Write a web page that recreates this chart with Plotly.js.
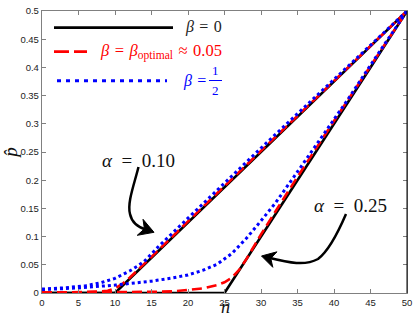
<!DOCTYPE html>
<html>
<head>
<meta charset="utf-8">
<script src="https://cdn.plot.ly/plotly-3.0.1.min.js"></script>
<style>html,body{margin:0;padding:0;background:#fff;}#chart{width:415px;height:318px;}</style>
</head>
<body>
<div id="chart"></div>
<script>
// ---- data ----
// alpha = 0.10
const n_a10_b0 = [0, 10, 50];
const p_a10_b0 = [0, 0, 0.5];
const n_a10_bopt = [0, 4, 8, 9, 10, 11, 12, 13, 15, 20, 25, 30, 40, 50];
const p_a10_bopt = [0.001, 0.001, 0.003, 0.004, 0.008, 0.016, 0.027, 0.039, 0.064, 0.127, 0.19, 0.252, 0.376, 0.5];
const n_a10_bhalf = [0, 3, 6, 8, 10, 11, 12, 13, 14, 16, 18, 20, 22, 25, 30, 35, 40, 45, 50];
const p_a10_bhalf = [0.007, 0.009, 0.013, 0.018, 0.026, 0.032, 0.039, 0.047, 0.056, 0.083, 0.108, 0.133, 0.158, 0.195, 0.257, 0.318, 0.379, 0.44, 0.5];
// alpha = 0.25
const n_a25_b0 = [0, 25, 50];
const p_a25_b0 = [0, 0, 0.5];
const n_a25_bopt = [0, 10, 15, 18, 20, 22, 24, 25, 26, 27, 28, 30, 32, 35, 40, 45, 50];
const p_a25_bopt = [0.001, 0.001, 0.002, 0.003, 0.005, 0.008, 0.014, 0.019, 0.027, 0.041, 0.06, 0.104, 0.145, 0.206, 0.305, 0.403, 0.5];
const n_a25_bhalf = [0, 5, 10, 15, 18, 20, 22, 24, 26, 28, 30, 32, 35, 38, 40, 42, 45, 48, 50];
const p_a25_bhalf = [0.006, 0.009, 0.014, 0.021, 0.027, 0.032, 0.04, 0.051, 0.07, 0.097, 0.128, 0.16, 0.215, 0.27, 0.308, 0.345, 0.404, 0.461, 0.5];

const xTicks = [0, 5, 10, 15, 20, 25, 30, 35, 40, 45, 50];
const yTicks = [0, 0.05, 0.1, 0.15, 0.2, 0.25, 0.3, 0.35, 0.4, 0.45, 0.5];
const yTickText = ['0', '0.05', '0.1', '0.15', '0.2', '0.25', '0.3', '0.35', '0.4', '0.45', '0.5'];

// ---- styles ----
const BLACK = '#000000', RED = '#ff0000', BLUE = '#0000ff';
const sBlack = {color: BLACK, width: 2.6, dash: 'solid'};
const sRed = {color: RED, width: 2.6, dash: '10px,5px'};
const sBlue = {color: BLUE, width: 3, dash: '3px,3px'};

function tr(x, y, line) { return {x: x, y: y, mode: 'lines', line: line, hoverinfo: 'skip', type: 'scatter'}; }
const traces = [
  tr(n_a10_b0, p_a10_b0, sBlack), tr(n_a25_b0, p_a25_b0, sBlack),
  tr(n_a10_bopt, p_a10_bopt, sRed), tr(n_a25_bopt, p_a25_bopt, sRed),
  tr(n_a10_bhalf, p_a10_bhalf, sBlue), tr(n_a25_bhalf, p_a25_bhalf, sBlue)
];

// ---- layout geometry (pixel -> paper helpers for decorations) ----
const W = 415, H = 318, ML = 42, MR = 8, MT = 11, MB = 25;
const PW = W - ML - MR, PH = H - MT - MB;
function px(x) { return (x - ML) / PW; }
function py(y) { return (H - MB - y) / PH; }
function pt(x, y) { return px(x).toFixed(5) + ',' + py(y).toFixed(5); }

function arrowHead(tx, ty, dx, dy, len, ang) {
  const l = Math.hypot(dx, dy); const ux = -dx / l, uy = -dy / l;
  const a = ang * Math.PI / 180;
  const r1 = [ux * Math.cos(a) - uy * Math.sin(a), ux * Math.sin(a) + uy * Math.cos(a)];
  const r2 = [ux * Math.cos(-a) - uy * Math.sin(-a), ux * Math.sin(-a) + uy * Math.cos(-a)];
  const b1 = [tx + len * r1[0], ty + len * r1[1]];
  const b2 = [tx + len * r2[0], ty + len * r2[1]];
  const inn = [tx + len * 0.6 * ux, ty + len * 0.6 * uy];
  return 'M' + pt(tx, ty) + 'L' + pt(b1[0], b1[1]) + 'L' + pt(inn[0], inn[1]) + 'L' + pt(b2[0], b2[1]) + 'Z';
}

const shapes = [
  // right axis in black
  {type: 'line', xref: 'paper', yref: 'paper', x0: 1, x1: 1, y0: 0, y1: 1, line: {color: '#000', width: 1}},
  // legend samples
  {type: 'line', xref: 'paper', yref: 'paper', x0: px(54), x1: px(173), y0: py(27.7), y1: py(27.7), line: {color: BLACK, width: 2.8}},
  {type: 'line', xref: 'paper', yref: 'paper', x0: px(54), x1: px(87), y0: py(51.7), y1: py(51.7), line: {color: RED, width: 2.8, dash: '15px,5px'}},
  {type: 'line', xref: 'paper', yref: 'paper', x0: px(57), x1: px(167), y0: py(80.7), y1: py(80.7), line: {color: BLUE, width: 3, dash: '4px,5px'}},
  // fraction bar
  {type: 'line', xref: 'paper', yref: 'paper', x0: px(209), x1: px(222), y0: py(80.5), y1: py(80.5), line: {color: BLUE, width: 1}},
  // curved arrow alpha=0.10
  {type: 'path', xref: 'paper', yref: 'paper', line: {color: BLACK, width: 2.5},
   path: 'M' + pt(138.5, 167) + 'C' + pt(134, 185) + ' ' + pt(127, 203) + ' ' + pt(130, 214) + 'C' + pt(132, 224) + ' ' + pt(140, 228) + ' ' + pt(147, 230)},
  {type: 'path', xref: 'paper', yref: 'paper', line: {color: BLACK, width: 1}, fillcolor: BLACK,
   path: arrowHead(154, 232.3, 10, 3.6, 17, 30)},
  // curved arrow alpha=0.25
  {type: 'path', xref: 'paper', yref: 'paper', line: {color: BLACK, width: 2.5},
   path: 'M' + pt(346, 214) + 'C' + pt(340, 228) + ' ' + pt(330, 250) + ' ' + pt(318, 259) + 'C' + pt(305, 266) + ' ' + pt(290, 263) + ' ' + pt(268, 257.5)},
  {type: 'path', xref: 'paper', yref: 'paper', line: {color: BLACK, width: 1}, fillcolor: BLACK,
   path: arrowHead(261.5, 256, -15, -4, 16, 30)}
];

const SERIF = 'Liberation Serif, Times New Roman, serif';
const E = '\u2002', T = '\u2004';
function ann(x, y, text, color, size, xa, ya) {
  return {xref: 'paper', yref: 'paper', x: px(x), y: py(y), text: text, showarrow: false,
    xanchor: xa || 'center', yanchor: ya || 'middle', borderpad: 0, font: {family: SERIF, size: size, color: color}};
}
const annotations = [
  ann(223, 27.5, '<i>β</i>' + T + '=' + T + '0', '#222', 16, 'right'),
  ann(223, 51.5, '<i>β</i>' + T + '=' + T + '<i>β</i><sub>optimal</sub>' + T + '≈' + T + '0.05', RED, 16.5, 'right'),
  ann(207, 80.5, '<i>β</i>' + T + '=', BLUE, 16, 'right'),
  ann(215.5, 70.5, '1', BLUE, 13),
  ann(215.5, 90.5, '2', BLUE, 13),
  ann(138, 160, '<i>α</i>' + E + '=' + E + '0.10', '#111', 19),
  ann(350, 206, '<i>α</i>' + E + '=' + E + '0.25', '#111', 19),
  // x axis title (placed as text below the tick labels)
  ann(225, 318, '<i>n</i>', '#111', 18, 'center', 'bottom')
];

const axisCommon = {
  showgrid: false, zeroline: false, ticks: 'inside', ticklen: 4, tickwidth: 1,
  tickcolor: '#808080', linecolor: '#808080', linewidth: 1.2, mirror: 'ticks',
  tickfont: {family: 'Liberation Sans, Arial, sans-serif', size: 9.5, color: '#222'}
};
const layout = {
  width: W, height: H, margin: {l: ML, r: MR, t: MT, b: MB, pad: 0},
  paper_bgcolor: '#fff', plot_bgcolor: '#fff', showlegend: false,
  xaxis: Object.assign({}, axisCommon, {range: [0, 50], tickvals: xTicks, ticktext: xTicks.map(String)}),
  yaxis: Object.assign({}, axisCommon, {range: [0, 0.5], tickvals: yTicks, ticktext: yTickText,
    title: {text: '<i>p̂</i>', standoff: 6, font: {family: SERIF, size: 19, color: '#111'}}}),
  shapes: shapes, annotations: annotations
};
Plotly.newPlot('chart', traces, layout, {staticPlot: true, displayModeBar: false});
</script>
</body>
</html>
